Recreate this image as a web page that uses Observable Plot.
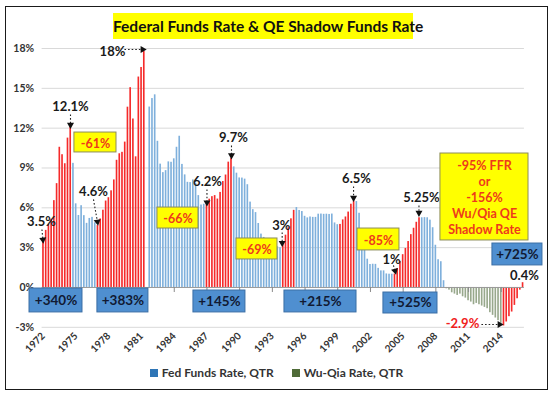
<!DOCTYPE html>
<html><head><meta charset="utf-8">
<script src="https://cdn.jsdelivr.net/npm/d3@7"></script>
<script src="https://cdn.jsdelivr.net/npm/@observablehq/plot@0.6"></script>
<style>
body{margin:0;background:#fff;font-family:Lato,"Open Sans",sans-serif;}
#wrap{position:relative;width:553px;height:399px;overflow:hidden;background:#fff;}
#border{position:absolute;left:5px;top:6px;width:541px;height:382px;border:1.5px solid #1a1a1a;pointer-events:none;}
#title{position:absolute;top:13px;left:113px;width:300px;height:26px;background:#ffff00;font-weight:bold;font-size:15.5px;line-height:26px;text-align:center;color:#111;white-space:nowrap;}
#chart{position:absolute;top:40px;left:0;}
#legend{position:absolute;top:365px;left:0;width:553px;text-align:center;font-weight:bold;font-size:12px;color:#333;white-space:nowrap;}
#legend span.sw{display:inline-block;width:8px;height:8px;margin-right:4px;vertical-align:0px;}
#legend span.item{margin:0 9px;}
</style></head>
<body>
<div id="wrap">
  <div id="title">Federal Funds Rate &amp; QE Shadow Funds Rate</div>
  <div id="chart"></div>
  <div id="legend"><span class="item"><span class="sw" style="background:#2e75b6"></span>Fed Funds Rate, QTR</span><span class="item"><span class="sw" style="background:#4f6b38"></span>Wu-Qia Rate, QTR</span></div>
  <div id="border"></div>
</div>
<script>
// ---- data ----
const firstYear = 1972;
// Fed Funds Rate, quarterly, 1972Q1 - 2008Q4 (null = no bar shown)
const ffrRate = [
  3.54, 4.30, 4.74, 5.14,   6.54, 7.82, 10.56, 10.00,  9.32, 11.25, 12.09, 9.35,
  6.30, 5.42, 6.16, 5.41,   4.83, 5.20, 5.28, 4.87,    4.66, 5.16, 5.82, 6.51,
  6.76, 7.28, 8.10, 9.58,   10.07, 10.18, 10.95, 13.58, 15.05, 12.69, 9.84, 15.85,
  16.57, 17.78, null, 13.59, 14.23, 14.51, 11.01, 9.29, 8.65, 8.80, 9.46, 9.43,
  9.69, 10.56, 11.39, 9.27, 8.48, 7.92, 7.90, 8.10,   7.83, 6.92, 6.21, 6.27,
  6.22, 6.65, 6.84, 6.92,   6.66, 7.16, 7.98, 8.47,   9.44, 9.73, 9.08, 8.61,
  8.25, 8.24, 8.16, 7.74,   6.43, 5.86, 5.64, 4.82,   4.02, 3.77, 3.26, 3.04,
  3.04, 3.00, 3.06, 2.99,   3.21, 3.94, 4.49, 5.17,   5.81, 6.02, 5.80, 5.72,
  5.36, 5.24, 5.31, 5.28,   5.28, 5.52, 5.53, 5.51,   5.52, 5.50, 5.53, 4.86,
  4.73, 4.75, 5.09, 5.31,   5.68, 6.27, 6.52, 6.47,   5.59, 4.33, 3.50, 2.13,
  1.73, 1.75, 1.74, 1.44,   1.25, 1.25, 1.02, 1.00,   1.00, 1.01, 1.43, 1.95,
  2.47, 2.94, 3.46, 3.98,   4.46, 4.91, 5.25, 5.25,   5.26, 5.25, 5.07, 4.50,
  3.18, 2.09, 1.94, 0.51
];
// Wu-Qia shadow rate, quarterly, 2009Q1 - 2016Q1
const wuQiaRate = [
  -0.1, -0.2, -0.4, -0.5,  -0.6, -0.5, -0.7, -0.8,  -1.0, -1.1, -1.3, -1.2,
  -1.3, -1.4, -1.5, -1.6,  -1.9, -2.1, -2.3, -2.5,  -2.7, -2.9, -2.6, -2.2,
  -1.85, -1.35, -0.85, -0.2, 0.36
];
// tightening cycles (drawn in red)
const risingPeriods = [
  ["1972Q1","1974Q3"], ["1977Q1","1981Q2"], ["1987Q1","1989Q2"], ["1994Q1","1995Q1"],
  ["1999Q2","2000Q3"], ["2004Q2","2006Q3"], ["2014Q2","2016Q1"]
];
const tickYears = [1972,1975,1978,1981,1984,1987,1990,1993,1996,1999,2002,2005,2008,2011,2014];
const yTicks = [-3,0,3,6,9,12,15,18];

// annotation texts
const pointLabels = [
  {text:"3.5%",  x:1971.82, y:4.97},
  {text:"12.1%", x:1974.48, y:13.63},
  {text:"18%",   x:1978.33, y:17.77},
  {text:"4.6%",  x:1976.59, y:7.23},
  {text:"6.2%",  x:1987.05, y:7.98},
  {text:"9.7%",  x:1989.43, y:11.30},
  {text:"3%",    x:1993.83, y:4.67},
  {text:"6.5%",  x:2000.72, y:8.21},
  {text:"1%",    x:2003.93, y:2.11},
  {text:"5.25%", x:2006.68, y:6.78},
  {text:"0.4%",  x:2016.13, y:0.90}
];
const redLabels = [{text:"-2.9%", x:2010.44, y:-2.71}];
const arrows = [
  {x1:1971.86,y1:4.37,x2:1971.95,y2:3.60},
  {x1:1974.48,y1:13.03,x2:1974.48,y2:12.25},
  {x1:1979.43,y1:17.92,x2:1981.10,y2:17.92},
  {x1:1976.59,y1:6.63,x2:1976.95,y2:4.95},
  {x1:1987.00,y1:7.38,x2:1987.00,y2:6.40},
  {x1:1989.25,y1:10.69,x2:1989.25,y2:9.95},
  {x1:1993.90,y1:4.14,x2:1993.90,y2:3.35},
  {x1:2000.45,y1:7.61,x2:2000.45,y2:6.75},
  {x1:2004.11,y1:1.66,x2:2004.25,y2:1.25},
  {x1:2006.45,y1:6.17,x2:2006.45,y2:5.62},
  {x1:2012.18,y1:-2.79,x2:2013.85,y2:-2.79}
];
const cutBoxes = [
  {text:"-61%", x1:1974.84,x2:1978.70,y1:11.67,y2:10.17},
  {text:"-66%", x1:1982.46,x2:1986.22,y1:6.02,y2:4.44},
  {text:"-69%", x1:1989.71,x2:1993.47,y1:3.69,y2:2.11},
  {text:"-85%", x1:2000.81,x2:2004.66,y1:4.44,y2:2.79},
  {text:"-95% FFR\nor\n-156%\nWu/Qia QE\nShadow Rate", x1:2008.42,x2:2016.50,y1:10.09,y2:3.54}
];
const gainBoxes = [
  {text:"+340%", x1:1970.72,x2:1975.58,y1:-0.08,y2:-1.88},
  {text:"+383%", x1:1976.95,x2:1981.63,y1:-0.08,y2:-1.88},
  {text:"+145%", x1:1985.76,x2:1990.53,y1:-0.23,y2:-1.88},
  {text:"+215%", x1:1994.11,x2:2000.72,y1:-0.23,y2:-1.88},
  {text:"+525%", x1:2003.19,x2:2008.15,y1:-0.38,y2:-1.96},
  {text:"+725%", x1:2013.19,x2:2017.78,y1:3.31,y2:1.66}
];

// ---- build table ----
const RED = "#f52a2a", BLUE = "#7fb0dc", GREEN = "#98a88c";
const key = (i) => `${firstYear + Math.floor(i/4)}Q${i%4+1}`;
const allValues = ffrRate.concat(wuQiaRate);
const idx = {}; allValues.forEach((v,i)=> idx[key(i)] = i);
const isRising = (i) => risingPeriods.some(([a,b]) => i >= idx[a] && i <= idx[b]);
const table = allValues.map((v,i) => ({
  t: firstYear + i/4,
  v,
  color: isRising(i) ? RED : (i < ffrRate.length ? BLUE : GREEN)
})).filter(d => d.v != null);

const W = 553, H = 320;
const xDomain = [firstYear - 0.125, firstYear + (allValues.length-1)/4 + 0.125];
const pxX = 10.9, pxY = (286.8 - 8) / 21;
const mL = 41.6, mR = W - (mL + (xDomain[1]-xDomain[0]) * pxX);
arrows.forEach(a => {
  const dx = (a.x2 - a.x1) * pxX;        // screen dx
  const dy = (a.y1 - a.y2) * pxY;        // screen dy (down positive)
  a.rot = Math.atan2(dx, -dy) * 180 / Math.PI;
});
const mid = (a,b) => (a+b)/2;

const chart = Plot.plot({
  width: W, height: H,
  marginLeft: mL, marginRight: mR, marginTop: 8, marginBottom: H - 286.8,
  x: {domain: xDomain},
  y: {domain: [-3, 18]},
  color: {type: "identity"},
  style: {fontFamily: "Lato, 'Open Sans', sans-serif", background: "transparent", overflow: "visible"},
  marks: [
    Plot.ruleY(yTicks.filter(d => d !== 0), {stroke: "#d9d9d9", strokeWidth: 1}),
    Plot.rectY(table, {x1: d => d.t - 0.075, x2: d => d.t + 0.075, y1: 0, y2: "v", fill: "color"}),
    Plot.ruleY([0], {stroke: "#9a9a9a", strokeWidth: 1}),
    Plot.ruleX(tickYears, {y1: 0, y2: -0.38, stroke: "#8a8a8a"}),
    Plot.axisY({ticks: yTicks, tickFormat: d => d + "%", tickSize: 0, tickPadding: 8,
      fontSize: 10.5, fontWeight: "bold", fill: "#333"}),
    Plot.axisX({ticks: tickYears, tickFormat: d => String(d), tickRotate: -45, tickSize: 0,
      tickPadding: 7, fontSize: 10, fontWeight: "bold", fill: "#333"}),
    // arrows
    Plot.link(arrows, {x1: "x1", y1: "y1", x2: "x2", y2: "y2", stroke: "#222", strokeWidth: 1.1, strokeDasharray: "1.6,2"}),
    Plot.dot(arrows, {x: "x2", y: "y2", symbol: "triangle", r: 2.6, fill: "#111", stroke: "none", rotate: "rot"}),
    // labels
    Plot.text(pointLabels, {x: "x", y: "y", text: "text", fontSize: 13, fontWeight: "bold", fill: "#1a1a1a"}),
    Plot.text(redLabels, {x: "x", y: "y", text: "text", fontSize: 13, fontWeight: "bold", fill: "#f02020"}),
    // boxes
    Plot.rect(cutBoxes, {x1: "x1", x2: "x2", y1: "y1", y2: "y2", fill: "#ffff00", stroke: "#8c8c5a", strokeWidth: 1}),
    Plot.text(cutBoxes, {x: d => mid(d.x1,d.x2), y: d => mid(d.y1,d.y2), text: "text", fontSize: 12.5, fontWeight: "bold", fill: "#ee3a1c", lineHeight: 1.28}),
    Plot.rect(gainBoxes, {x1: "x1", x2: "x2", y1: "y1", y2: "y2", fill: "#4f8fd0", stroke: "#3a6ea5", strokeWidth: 1}),
    Plot.text(gainBoxes, {x: d => mid(d.x1,d.x2), y: d => mid(d.y1,d.y2), text: "text", fontSize: 13.5, fontWeight: "bold", fill: "#111a33"})
  ]
});
document.getElementById("chart").appendChild(chart);
</script>
</body></html>
